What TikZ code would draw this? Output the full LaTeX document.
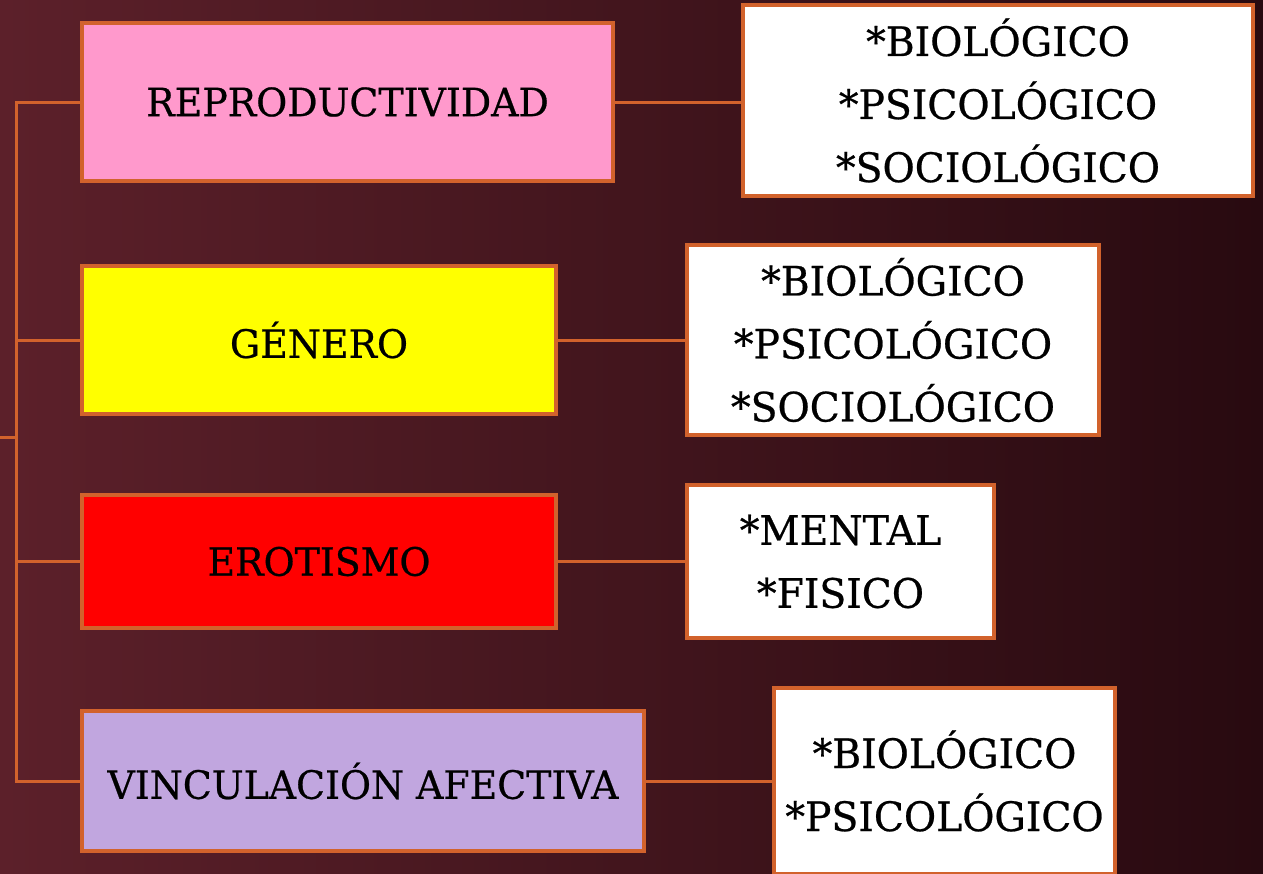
\documentclass[tikz,border=0pt]{standalone}
\usepackage{fontspec}
\setmainfont{DejaVu Serif}[FakeStretch=0.97, FakeBold=0.6]
\usetikzlibrary{positioning}

\definecolor{bgleft}{RGB}{92,32,42}
\definecolor{bgright}{RGB}{40,10,16}
\definecolor{rim}{RGB}{210,98,44}
\definecolor{rosa}{RGB}{255,153,204}
\definecolor{lila}{RGB}{193,166,223}
\definecolor{amarillo}{RGB}{255,255,0}

\begin{document}
\begin{tikzpicture}[x=1pt,y=-1pt]
   \tikzstyle{cat box}=[draw=rim, line width=3.5pt, rectangle, text=black, font={\fontsize{39}{48}\selectfont}]
   \tikzstyle{sub box}=[cat box, fill=white, align=center, font={\fontsize{40.5}{63}\selectfont}]
   \tikzstyle{link}=[draw=rim, line width=3pt]

% background
\fill[left color=bgleft, right color=bgright] (0,0) rectangle (1263,873);
\useasboundingbox (0,0) rectangle (1263,873);

% categories
\node[cat box, fill=rosa, minimum width=531pt, minimum height=158pt] (repro) at (347.5,102) {REPRODUCTIVIDAD};
\node[cat box, fill=amarillo, minimum width=474pt, minimum height=148pt] (genero) at (319,340) {GÉNERO};
\node[cat box, fill=red, minimum width=474pt, minimum height=133pt] (eros) at (319,561.5) {EROTISMO};
\node[cat box, fill=lila, minimum width=562pt, minimum height=140pt] (vinculo) at (363,781) {VINCULACIÓN AFECTIVA};

% aspects
\node[sub box, minimum width=510pt, minimum height=191pt] (repro asp) at (998,100.5) {*BIOLÓGICO\\*PSICOLÓGICO\\*SOCIOLÓGICO};
\node[sub box, minimum width=412pt, minimum height=190pt] (genero asp) at (893,340) {*BIOLÓGICO\\*PSICOLÓGICO\\*SOCIOLÓGICO};
\node[sub box, minimum width=307pt, minimum height=153pt] (eros asp) at (840.5,561.5) {*MENTAL\\*FISICO};
\node[sub box, minimum width=341pt, minimum height=186pt] (vinculo asp) at (944.5,781) {*BIOLÓGICO\\*PSICOLÓGICO};

% trunk
\coordinate (root) at (0,437);
\coordinate (trunk) at (16,437);
\draw[link] (root) -- (trunk);
\draw[link] (repro.west) -- (repro.west -| trunk) -- (vinculo.west -| trunk) -- (vinculo.west);
\foreach \n in {genero, eros}
   \draw[link] (\n.west) -- (\n.west -| trunk);
\foreach \n in {repro, genero, eros, vinculo}
   \draw[link] (\n.east) -- (\n.east -| \n\space asp.west);

\end{tikzpicture}
\end{document}
